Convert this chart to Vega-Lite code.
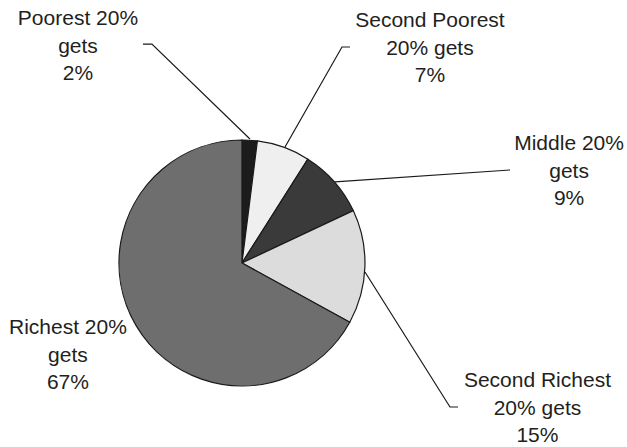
{
  "$schema": "https://vega.github.io/schema/vega-lite/v6.json",
  "width": 627,
  "height": 447,
  "autosize": {"type": "fit", "contains": "padding"},
  "padding": 0,
  "background": "white",
  "config": {"view": {"stroke": null}},
  "layer": [
    {
      "data": {"values": [
        {"group": "Poorest 20%", "share": 2, "rank": 1},
        {"group": "Second Poorest 20%", "share": 7, "rank": 2},
        {"group": "Middle 20%", "share": 9, "rank": 3},
        {"group": "Second Richest 20%", "share": 15, "rank": 4},
        {"group": "Richest 20%", "share": 67, "rank": 5}
      ]},
      "mark": {"type": "arc", "outerRadius": 123, "stroke": "#1a1a1a", "strokeWidth": 1.2},
      "encoding": {
        "theta": {"field": "share", "type": "quantitative", "stack": true},
        "order": {"field": "rank", "type": "quantitative"},
        "x": {"datum": 0, "type": "quantitative", "scale": {"domain": [-196.7, 313.0], "nice": false, "zero": false}, "axis": null},
        "y": {"datum": 0, "type": "quantitative", "scale": {"domain": [-149.6, 213.8], "nice": false, "zero": false}, "axis": null},
        "color": {"field": "group", "type": "nominal", "legend": null,
          "scale": {"domain": ["Poorest 20%", "Second Poorest 20%", "Middle 20%", "Second Richest 20%", "Richest 20%"],
                    "range": ["#1c1c1c", "#efefef", "#3a3a3a", "#dcdcdc", "#6e6e6e"]}}
      }
    },
    {
      "data": {"values": [
        {"group": "Poorest", "seq": 1, "x": -80.5, "y": 178.0},
        {"group": "Poorest", "seq": 2, "x": -73.2, "y": 178.0},
        {"group": "Poorest", "seq": 3, "x": 6.5, "y": 100.8},
        {"group": "Second Poorest", "seq": 1, "x": 87.8, "y": 175.6},
        {"group": "Second Poorest", "seq": 2, "x": 81.3, "y": 175.6},
        {"group": "Second Poorest", "seq": 3, "x": 35.0, "y": 94.3},
        {"group": "Middle", "seq": 1, "x": 75.6, "y": 65.9},
        {"group": "Middle", "seq": 2, "x": 217.9, "y": 75.6},
        {"group": "Second Richest", "seq": 1, "x": 100.0, "y": -7.3},
        {"group": "Second Richest", "seq": 2, "x": 169.1, "y": -117.1},
        {"group": "Second Richest", "seq": 3, "x": 175.6, "y": -117.1}
      ]},
      "mark": {"type": "line", "color": "#1a1a1a", "strokeWidth": 1.2},
      "encoding": {
        "x": {"field": "x", "type": "quantitative"},
        "y": {"field": "y", "type": "quantitative"},
        "detail": {"field": "group"},
        "order": {"field": "seq", "type": "quantitative"}
      }
    },
    {
      "data": {"values": [
        {"label": "Poorest 20%\ngets\n2%", "x": -133.3, "y": 193.5},
        {"label": "Second Poorest\n20% gets\n7%", "x": 152.8, "y": 191.9},
        {"label": "Middle 20%\ngets\n9%", "x": 265.9, "y": 91.9},
        {"label": "Second Richest\n20% gets\n15%", "x": 240.2, "y": -100.8},
        {"label": "Richest 20%\ngets\n67%", "x": -141.5, "y": -57.7}
      ]},
      "mark": {"type": "text", "font": "Liberation Sans", "fontSize": 21, "color": "#231f20", "align": "center", "baseline": "alphabetic", "lineBreak": "\n", "lineHeight": 27.7},
      "encoding": {
        "x": {"field": "x", "type": "quantitative"},
        "y": {"field": "y", "type": "quantitative"},
        "text": {"field": "label"}
      }
    }
  ]
}
